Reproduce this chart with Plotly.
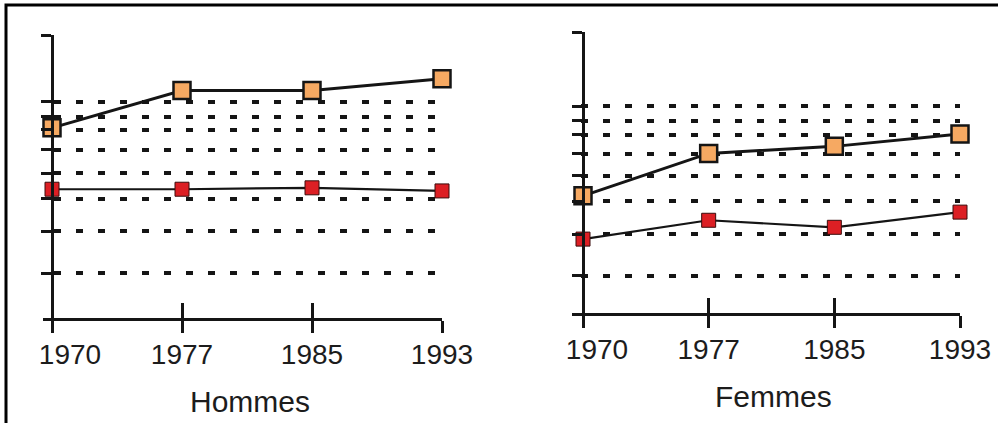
import plotly.graph_objects as go

# ---- data (relative vertical units: x-axis = 0, top grid line = 100)
years = ["1970", "1977", "1985", "1993"]
hommes_haut = [67.2, 80.4, 80.4, 84.5]
hommes_bas = [45.5, 45.5, 46.0, 44.9]
femmes_haut = [41.7, 56.8, 59.3, 63.7]
femmes_bas = [26.3, 33.0, 30.5, 35.9]
grille_hommes = [15.9, 30.6, 42.1, 51.2, 59.4, 66.5, 71.2, 76.5, 100]
grille_femmes = [13.3, 28.1, 39.7, 48.9, 56.7, 63.5, 68.4, 73.5, 100]
panneaux = ["Hommes", "Femmes"]

# ---- styling / geometry (pixels)
W, H = 998, 423
ORANGE = "#F6A962"
RED = "#DC1F24"
INK = "#151515"
FONT = "Liberation Sans, Arial, sans-serif"

geo = [
    dict(x0=43, xa=52, x1=442, top=35, bot=318, dash="0px,11px,7px,4px",
         label_dx=18, title_x=250, title_y=401),
    dict(x0=572, xa=583, x1=960, top=32, bot=313, dash="0px,9px,7px,6px",
         label_dx=14, title_x=773, title_y=396),
]
series = [(hommes_haut, hommes_bas, grille_hommes), (femmes_haut, femmes_bas, grille_femmes)]

idx = list(range(len(years)))
fig = go.Figure()
layout = dict(
    width=W, height=H, margin=dict(l=0, r=0, t=0, b=0, pad=0, autoexpand=False),
    paper_bgcolor="white", plot_bgcolor="white", showlegend=False,
    font=dict(family=FONT, color=INK),
    annotations=[], shapes=[],
)


def key(a):
    if a.startswith("x"):
        return "xaxis" if a == "x" else "xaxis" + a[1:]
    return "yaxis" if a == "y" else "yaxis" + a[1:]


for i, (g, (haut, bas, grille)) in enumerate(zip(geo, series)):
    n = i + 1
    xid = "x" if n == 1 else f"x{n}"
    yid = "y" if n == 1 else f"y{n}"
    xin = f"x{n + 2}"
    xlab = f"x{n + 4}"
    unit = (g["x1"] - g["xa"]) / (len(years) - 1)
    xr = [-(g["xa"] - g["x0"]) / unit, len(years) - 1]
    dom = [g["x0"] / W, g["x1"] / W]

    # invisible carriers so the overlay axes (inner ticks, tick labels) get drawn
    for ax in (xin, xlab):
        fig.add_trace(go.Scatter(x=idx, y=haut, xaxis=ax, yaxis=yid, mode="none",
                                 hoverinfo="skip"))

    fig.add_trace(go.Scatter(
        x=idx, y=bas, xaxis=xid, yaxis=yid, mode="lines+markers", cliponaxis=False,
        line=dict(color=INK, width=2.2),
        marker=dict(symbol="square", size=14, color=RED, line=dict(color="#3a0c0c", width=1)),
    ))
    fig.add_trace(go.Scatter(
        x=idx, y=haut, xaxis=xid, yaxis=yid, mode="lines+markers", cliponaxis=False,
        line=dict(color=INK, width=3),
        marker=dict(symbol="square", size=17, color=ORANGE, line=dict(color=INK, width=2.5)),
    ))

    layout[key(xid)] = dict(
        domain=dom, range=xr, anchor=yid, showline=True, linewidth=3, linecolor=INK,
        ticks="outside", ticklen=12, tickwidth=3, tickcolor=INK, tickvals=idx,
        showticklabels=False, showgrid=False, zeroline=False, fixedrange=True,
        automargin=False,
    )
    layout[key(xin)] = dict(
        overlaying=xid, anchor=yid, range=xr, ticks="inside", ticklen=15, tickwidth=3,
        tickcolor=INK, tickvals=idx, showticklabels=False, showline=False,
        showgrid=False, zeroline=False, fixedrange=True, automargin=False,
    )
    label_pos = [idx[0] + g["label_dx"] / unit] + idx[1:]
    layout[key(xlab)] = dict(
        overlaying=xid, anchor=yid, range=xr, ticks="", tickvals=label_pos, ticktext=years,
        tickfont=dict(size=28, family=FONT, color="#1c1c1c"), ticklabelstandoff=17,
        showline=False, showgrid=False, zeroline=False, fixedrange=True, automargin=False,
    )
    layout[key(yid)] = dict(
        domain=[1 - g["bot"] / H, 1 - g["top"] / H], range=[0, 100],
        anchor="free", position=g["xa"] / W, automargin=False,
        showline=True, linewidth=3, linecolor=INK,
        ticks="outside", ticklen=10, tickwidth=3, tickcolor=INK, tickvals=grille,
        showticklabels=False, showgrid=True, gridcolor=INK, gridwidth=3.5,
        griddash=g["dash"], zeroline=False, fixedrange=True,
    )
    layout["annotations"].append(dict(
        text=panneaux[i], x=g["title_x"] / W, y=1 - g["title_y"] / H,
        xref="paper", yref="paper", xanchor="center", yanchor="middle", showarrow=False,
        font=dict(size=30, family=FONT, color="#1c1c1c"),
    ))

# frame of the scanned page
layout["shapes"].append(dict(
    type="rect", xref="paper", yref="paper", x0=6 / W, x1=1.1, y0=-0.1, y1=1 - 5 / H,
    line=dict(color="black", width=3), fillcolor="rgba(0,0,0,0)", layer="above",
))

fig.update_layout(**layout)
fig.write_html("out.html", config={"displayModeBar": False},
               post_script="document.body.style.margin='0';")
